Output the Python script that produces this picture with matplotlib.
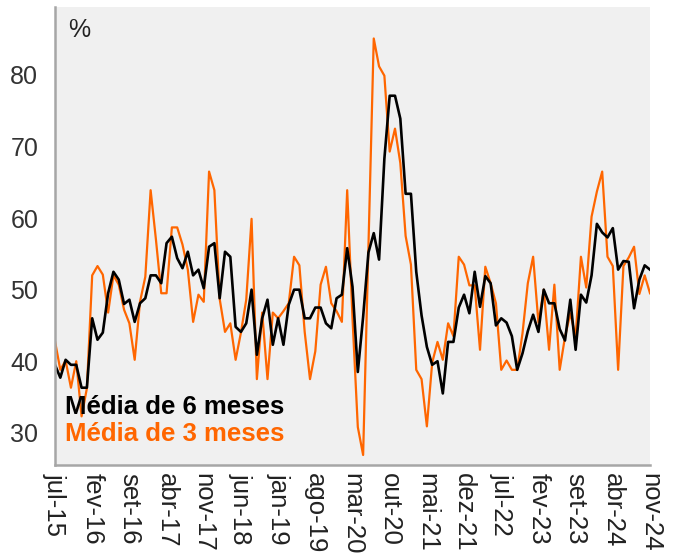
import matplotlib
matplotlib.use("Agg")
import matplotlib.pyplot as plt
import numpy as np

plt.rcParams['font.family'] = ['Liberation Sans', 'DejaVu Sans']

# media movel de 6 meses (jul-15 .. nov-24)
media6 = [39.5, 37.7, 40.2, 39.5, 39.5, 36.3, 36.3, 46, 43, 44,
          49.5, 52.5, 51.4, 48, 48.6, 45.5, 48.1, 48.8, 52, 52,
          50.9, 56.5, 57.4, 54.4, 53, 55.3, 52, 52.8, 50.2, 56,
          56.5, 48.8, 55.3, 54.6, 44.8, 44.1, 45.3, 50, 40.9, 46,
          48.6, 42.3, 46, 42.3, 47.9, 50, 50, 46, 46, 47.5,
          47.5, 45.3, 44.6, 48.8, 49.3, 55.8, 50.4, 38.5, 46.2, 55.2,
          57.9, 54.2, 68.3, 77.1, 77.1, 73.9, 63.4, 63.4, 52.5, 46.4,
          42, 39.5, 40, 35.5, 42.7, 42.7, 47.5, 49.3, 46.7, 52.5,
          47.6, 51.9, 50.9, 45, 46, 45.4, 43.5, 38.8, 41.1, 44.2,
          46.5, 44.1, 50, 48.1, 48.1, 44.5, 42.9, 48.6, 41.6, 49.3,
          48.2, 52, 59.2, 58, 57.3, 58.6, 52.8, 54, 53.9, 47.4,
          51.4, 53.4, 52.8]

# media movel de 3 meses
media3 = [42.8, 38.8, 40.1, 36.3, 40, 32.3, 36.2, 52, 53.3, 52.1,
          46.8, 52, 50.7, 47.2, 45.3, 40.2, 48.3, 51.8, 63.9, 57,
          49.5, 49.5, 58.7, 58.7, 56.3, 52.8, 45.5, 49.3, 48.3, 66.5,
          63.9, 48.7, 44.1, 45.3, 40.2, 44, 48.6, 59.9, 37.5, 46.8,
          37.5, 46.8, 46, 47, 48.1, 54.6, 53.4, 44.1, 37.5, 41.4,
          50.7, 53.2, 48.1, 47, 45.5, 63.9, 46, 30.8, 26.9, 56,
          85.1, 81.2, 79.9, 69.3, 72.5, 67.7, 57.5, 53.5, 38.8, 37.5,
          30.9, 39.8, 42.7, 40.2, 45.3, 43.5, 54.6, 53.5, 50.6, 50.6,
          41.6, 53.2, 50.9, 48.1, 38.8, 40.1, 38.8, 38.8, 43.9, 50.9,
          54.6, 45.4, 50, 41.6, 50.7, 38.8, 43.4, 46.7, 43.4, 54.6,
          50.3, 60.2, 63.7, 66.5, 54.6, 53.3, 38.8, 53.3, 54.5, 56,
          49.4, 52, 49.5]

tick_labels = ['jul-15', 'fev-16', 'set-16', 'abr-17', 'nov-17', 'jun-18',
               'jan-19', 'ago-19', 'mar-20', 'out-20', 'mai-21', 'dez-21',
               'jul-22', 'fev-23', 'set-23', 'abr-24', 'nov-24']
yticks = [30, 40, 50, 60, 70, 80]

laranja = '#ff6600'

fig = plt.figure(figsize=(6.73, 5.54), dpi=100)
ax = fig.add_axes([55/673, 1 - 465/554, 595/673, 458/554])
ax.set_facecolor('#f0f0f0')

x = np.arange(len(media6))
ax.plot(x, media3, color=laranja, lw=1.6)
ax.plot(x, media6, color='black', lw=1.9)

ax.set_xlim(0, len(media6) - 1)
ax.set_ylim(25.5, 89.5)

ax.set_xticks(np.arange(0, len(media6), 7))
ax.set_xticklabels(tick_labels, rotation=-90, fontsize=18.5, color='#222222')
ax.set_yticks(yticks)
ax.set_yticklabels([str(v) for v in yticks], fontsize=18, color='#333333')
ax.tick_params(axis='both', length=0)
ax.tick_params(axis='x', pad=6)
ax.tick_params(axis='y', pad=12)

for s in ['top', 'right']:
    ax.spines[s].set_visible(False)
for s in ['left', 'bottom']:
    ax.spines[s].set_color('#a6a6a6')
    ax.spines[s].set_linewidth(1.8)

ax.text(0.022, 0.975, '%', transform=ax.transAxes, fontsize=18,
        va='top', ha='left', color='#222222')
ax.text(0.017, 0.127, 'Média de 6 meses', transform=ax.transAxes,
        fontsize=18.5, fontweight='bold', color='black', va='center')
ax.text(0.017, 0.068, 'Média de 3 meses', transform=ax.transAxes,
        fontsize=18.5, fontweight='bold', color=laranja, va='center')

fig.savefig('out.png', dpi=100)
